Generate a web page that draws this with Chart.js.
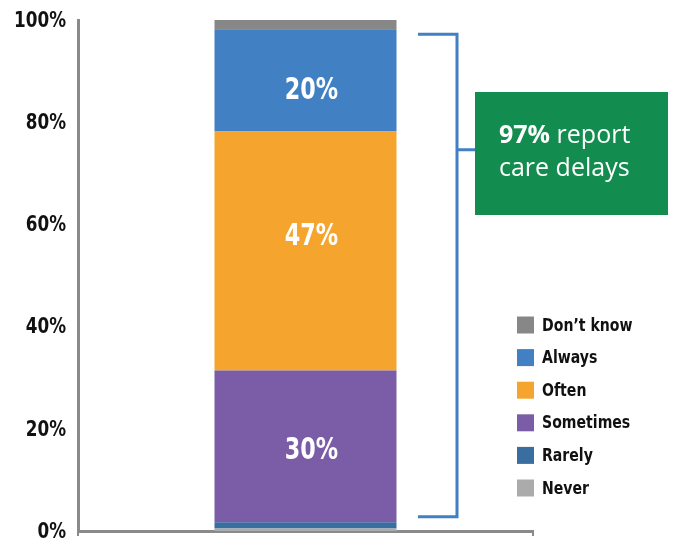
<!DOCTYPE html>
<html>
<head>
<meta charset="utf-8">
<script src="https://cdn.jsdelivr.net/npm/chart.js@4.4.1/dist/chart.umd.min.js"></script>
<style>
  html, body { margin: 0; padding: 0; background: #fff; }
  #wrap { width: 680px; height: 542px; }
</style>
</head>
<body>
<div id="wrap"><canvas id="chart" width="680" height="542"></canvas></div>
<script>
// data
const categories = [''];
const seriesNames = ['Never', 'Rarely', 'Sometimes', 'Often', 'Always', 'Don\u2019t know'];
const seriesValues = [0.5, 1.2, 29.7, 46.8, 20.0, 1.8];
const valueLabels = ['', '', '30%', '47%', '20%', ''];
const seriesColors = ['#ababab', '#3a6ea0', '#7b5ca6', '#f5a52e', '#4180c3', '#878787'];
const yTicks = [0, 20, 40, 60, 80, 100];
const bracketTop = 97.2;
const bracketBottom = 2.8;
const bracketMid = 74.6;
const calloutBold = '97%';
const calloutRest = ' report';
const calloutLine2 = 'care delays';

// the labels in the original sit a little off the segment centres
const labelShift = [0, 0, 4, -15, 10, 0];

const condensed = '"DejaVu Sans Condensed", "DejaVu Sans", sans-serif';

const datasets = [];
for (var i = 0; i < seriesNames.length; i++) {
    datasets.push({
        label: seriesNames[i],
        data: [seriesValues[i]],
        backgroundColor: seriesColors[i],
        borderWidth: 0,
        barPercentage: 0.4,
        categoryPercentage: 1.0
    });
}

// squeeze text horizontally to get closer to a condensed face
function narrowText(ctx, text, x, y, sx) {
    ctx.save();
    ctx.translate(x, y);
    ctx.scale(sx, 1);
    ctx.fillText(text, 0, 0);
    ctx.restore();
}

// tick labels, labels inside the bar, bracket, green box and legend
const extras = {
    id: 'extras',
    afterDatasetsDraw(chart) {
        const ctx = chart.ctx;
        const y = chart.scales.y;

        ctx.save();
        // y tick labels (drawn here so they don't push the chart area)
        ctx.fillStyle = '#111111';
        ctx.font = 'bold 22px ' + condensed;
        ctx.textAlign = 'right';
        ctx.textBaseline = 'middle';
        yTicks.forEach(function (v) {
            narrowText(ctx, v + '%', 66, y.getPixelForValue(v) + 1, 0.85);
        });

        // value labels
        ctx.fillStyle = '#ffffff';
        ctx.font = 'bold 31px ' + condensed;
        ctx.textAlign = 'center';
        chart.data.datasets.forEach(function (ds, i) {
            if (!valueLabels[i]) return;
            const bar = chart.getDatasetMeta(i).data[0];
            narrowText(ctx, valueLabels[i], bar.x + 6, (bar.y + bar.base) / 2 + 1 + labelShift[i], 0.8);
        });

        // bracket
        const yT = y.getPixelForValue(bracketTop);
        const yB = y.getPixelForValue(bracketBottom);
        const yM = y.getPixelForValue(bracketMid);
        ctx.strokeStyle = '#4180c3';
        ctx.lineWidth = 3;
        ctx.beginPath();
        ctx.moveTo(418, yT);
        ctx.lineTo(457, yT);
        ctx.lineTo(457, yB);
        ctx.lineTo(418, yB);
        ctx.moveTo(457, yM);
        ctx.lineTo(477, yM);
        ctx.stroke();

        // green callout
        ctx.fillStyle = '#138d4f';
        ctx.fillRect(475, 92, 193, 123);
        ctx.fillStyle = '#ffffff';
        ctx.textBaseline = 'alphabetic';
        ctx.textAlign = 'left';
        ctx.font = 'bold 25px "Open Sans", sans-serif';
        ctx.fillText(calloutBold, 499, 143);
        const w = ctx.measureText(calloutBold).width;
        ctx.font = '25px "Open Sans", sans-serif';
        ctx.fillText(calloutRest, 499 + w, 143);
        ctx.fillText(calloutLine2, 499, 176);

        // legend, top to bottom in reverse stack order
        ctx.font = 'bold 18px ' + condensed;
        ctx.textBaseline = 'middle';
        for (var k = 0; k < seriesNames.length; k++) {
            const idx = seriesNames.length - 1 - k;
            const cy = 325 + k * 32.6;
            ctx.fillStyle = seriesColors[idx];
            ctx.fillRect(517, cy - 8.5, 17, 17);
            ctx.fillStyle = '#111111';
            narrowText(ctx, seriesNames[idx], 542, cy + 1, 0.87);
        }
        ctx.restore();
    }
};

new Chart(document.getElementById('chart').getContext('2d'), {
    type: 'bar',
    data: { labels: categories, datasets: datasets },
    options: {
        responsive: false,
        animation: false,
        layout: { padding: { left: 0, right: 147, top: 20, bottom: 6 } },
        plugins: {
            legend: { display: false },
            tooltip: { enabled: false }
        },
        scales: {
            x: {
                stacked: true,
                ticks: { display: false },
                grid: { display: true, drawOnChartArea: false, tickLength: 5, color: '#8a8a8a', lineWidth: 2 },
                border: { display: true, color: '#8a8a8a', width: 3 },
                afterFit: function (s) { s.height = 5; }
            },
            y: {
                stacked: true,
                min: 0,
                max: 100,
                afterBuildTicks: function (s) { s.ticks = yTicks.map(function (v) { return { value: v }; }); },
                ticks: { display: false },
                grid: { display: false },
                border: { display: true, color: '#8a8a8a', width: 3 },
                afterFit: function (s) { s.width = 78; }
            }
        }
    },
    plugins: [extras]
});
</script>
</body>
</html>
